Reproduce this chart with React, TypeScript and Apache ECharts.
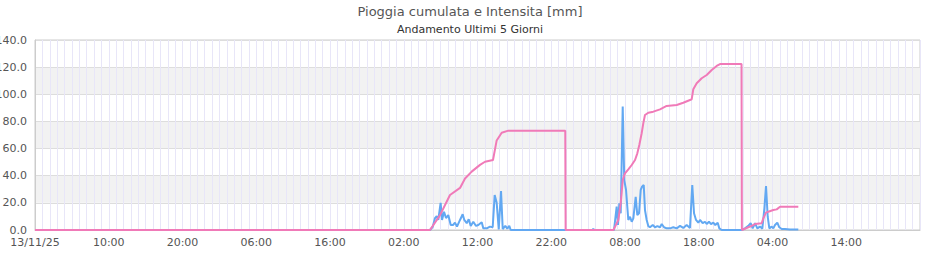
import React, { useEffect, useRef } from "react";
import * as echarts from "echarts";

const titleText = "Pioggia cumulata e Intensita [mm]";
const subtitleText = "Andamento Ultimi 5 Giorni";

// hours from 13/11/25 00:00
const xTickLabels = ["13/11/25", "10:00", "20:00", "06:00", "16:00", "02:00", "12:00", "22:00", "08:00", "18:00", "04:00", "14:00", ""];
const yTickValues = [0, 20, 40, 60, 80, 100, 120, 140];

const cumHours = [0, 53.56, 54.92, 56.27, 57.63, 58.31, 59.21, 60.34, 61.02, 62.1, 62.6, 63.28, 64.18, 71.9, 71.95, 78.43, 79.09, 79.42, 79.69, 80.0, 80.45, 80.91, 81.36, 81.67, 81.94, 82.26, 82.48, 82.71, 83.16, 83.84, 84.75, 85.65, 87.01, 87.9, 88.81, 89.04, 89.26, 89.72, 90.4, 91.08, 91.76, 92.43, 92.88, 95.8, 95.85, 96.72, 97.18, 97.63, 98.53, 98.75, 99.12, 99.43, 100.11, 100.57, 101.02, 103.5];
const cumValues = [0, 0, 11, 25.8, 31, 38, 43, 48, 50.3, 51.6, 66, 71.7, 73.2, 73.2, 0, 0, 7.4, 19.6, 36.8, 41.8, 44.7, 47.9, 51.6, 56.5, 62.6, 71.3, 78.6, 84.7, 86.4, 87.2, 88.9, 91.4, 92.1, 93.8, 95.8, 96.3, 103.7, 108.1, 111.8, 114.2, 117.9, 120.9, 122.3, 122.3, 0, 2, 3, 4.4, 5, 8.6, 12.8, 13.5, 14.7, 15.2, 17.2, 17.2];

const intHours = [0, 53.56, 53.93, 54.24, 54.47, 54.68, 55.0, 55.19, 55.46, 55.73, 56.04, 56.37, 56.68, 56.95, 57.22, 57.63, 57.99, 58.21, 58.54, 58.81, 59.08, 59.43, 59.8, 60.11, 60.57, 60.79, 61.25, 61.69, 62.06, 62.33, 62.6, 62.88, 63.19, 63.42, 63.77, 64.04, 64.31, 64.5, 75.6, 75.7, 75.8, 78.51, 78.87, 79.05, 79.23, 79.42, 79.69, 79.9, 80.14, 80.45, 80.68, 80.91, 81.13, 81.45, 81.67, 81.9, 82.13, 82.31, 82.54, 82.71, 82.94, 83.16, 83.39, 83.76, 84.07, 84.38, 84.75, 84.98, 85.29, 85.65, 86.1, 86.55, 87.01, 87.46, 87.9, 88.36, 88.81, 89.12, 89.36, 89.63, 89.94, 90.17, 90.53, 90.85, 91.08, 91.39, 91.66, 91.97, 92.24, 92.57, 92.79, 93.11, 95.8, 96.27, 96.72, 97.04, 97.31, 97.63, 97.94, 98.31, 98.62, 98.9, 99.12, 99.35, 99.57, 99.89, 100.11, 100.34, 100.65, 100.92, 101.25, 101.69, 102.37, 103.5];
const intValues = [0, 0, 2.4, 8.8, 10.3, 7.4, 20, 7.4, 13.5, 8.8, 11, 3.7, 3.7, 5.4, 2.5, 7.4, 11.6, 7.4, 5, 7.9, 3, 6.1, 3, 3.7, 5.7, 1.2, 1.2, 2.5, 2, 25.8, 20, 0.5, 28.7, 0.7, 3, 1, 3, 0, 0, 1, 0, 0, 17.2, 3.7, 19.6, 12.3, 90.9, 36.8, 29.5, 7.4, 9.8, 6.1, 8.6, 24.5, 11, 12.3, 29.5, 31.9, 33.2, 14.7, 7.4, 2.9, 2, 3.7, 2, 2.9, 2, 4.4, 2, 1.2, 1.2, 2, 1.2, 3, 1.5, 3.7, 1.5, 33.2, 12.3, 7.4, 5.4, 7.4, 5, 6.1, 4.4, 6.1, 4.4, 5.4, 3.7, 5.4, 1.2, 0, 0, 1.2, 3, 5, 1.2, 5, 1.2, 2.5, 1, 16, 32.4, 9.8, 1.2, 2.5, 1.2, 3.7, 5.4, 2, 0.7, 0.7, 0.3, 0.3];

const FONT = "DejaVu Sans";

export default function App() {
  const ref = useRef<HTMLDivElement>(null);
  useEffect(() => {
    if (!ref.current) return;
    const chart = echarts.init(ref.current, undefined, { renderer: "svg" });
    const cumData = cumHours.map((h, i) => [h, cumValues[i]]);
    const intData = intHours.map((h, i) => [h, intValues[i]]);
    chart.setOption({
      animation: false,
      textStyle: { fontFamily: FONT },
      title: {
        text: titleText,
        subtext: subtitleText,
        left: "center",
        top: 0,
        itemGap: 6,
        textStyle: { fontFamily: FONT, fontSize: 13, fontWeight: "normal", color: "#555" },
        subtextStyle: { fontFamily: FONT, fontSize: 11, color: "#333" },
      },
      grid: {
        left: 35,
        right: 20,
        top: 40,
        bottom: 30,
        outerBoundsMode: "none",
        containLabel: false,
        show: true,
        borderColor: "#ccc",
        borderWidth: 1,
        backgroundColor: "transparent",
      },
      xAxis: {
        type: "value",
        min: 0,
        max: 120,
        interval: 10,
        axisLine: { show: true, lineStyle: { color: "#ccc" } },
        axisTick: { show: false },
        minorTick: { show: false, splitNumber: 10 },
        splitLine: { show: true, lineStyle: { color: "#e8e6f8", width: 1 } },
        minorSplitLine: { show: true, lineStyle: { color: "#e8e6f8", width: 1 } },
        axisLabel: {
          fontFamily: FONT,
          fontSize: 11,
          color: "#555",
          margin: 7,
          showMaxLabel: false,
          formatter: (v: number) => xTickLabels[Math.round(v / 10)] ?? "",
        },
      },
      yAxis: {
        type: "value",
        min: yTickValues[0],
        max: yTickValues[yTickValues.length - 1],
        interval: 20,
        axisLine: { show: true, lineStyle: { color: "#ccc" } },
        axisTick: { show: false },
        splitLine: { show: true, lineStyle: { color: "#ddd", width: 1 } },
        splitArea: { show: true, areaStyle: { color: ["rgba(255,255,255,0)", "#f2f2f2"] } },
        axisLabel: {
          fontFamily: FONT,
          fontSize: 11,
          color: "#555",
          margin: 8,
          formatter: (v: number) => v.toFixed(1),
        },
      },
      series: [
        {
          name: "Intensita",
          type: "line",
          data: intData,
          showSymbol: false,
          symbol: "none",
          lineStyle: { color: "#62a8f2", width: 2 },
          itemStyle: { color: "#62a8f2" },
          z: 2,
        },
        {
          name: "Pioggia cumulata",
          type: "line",
          data: cumData,
          showSymbol: false,
          symbol: "none",
          lineStyle: { color: "#f07ab8", width: 2 },
          itemStyle: { color: "#f07ab8" },
          z: 3,
        },
      ],
    });
    return () => chart.dispose();
  }, []);
  return <div ref={ref} style={{ width: 940, height: 260, position: "absolute", left: 0, top: 0 }} />;
}
